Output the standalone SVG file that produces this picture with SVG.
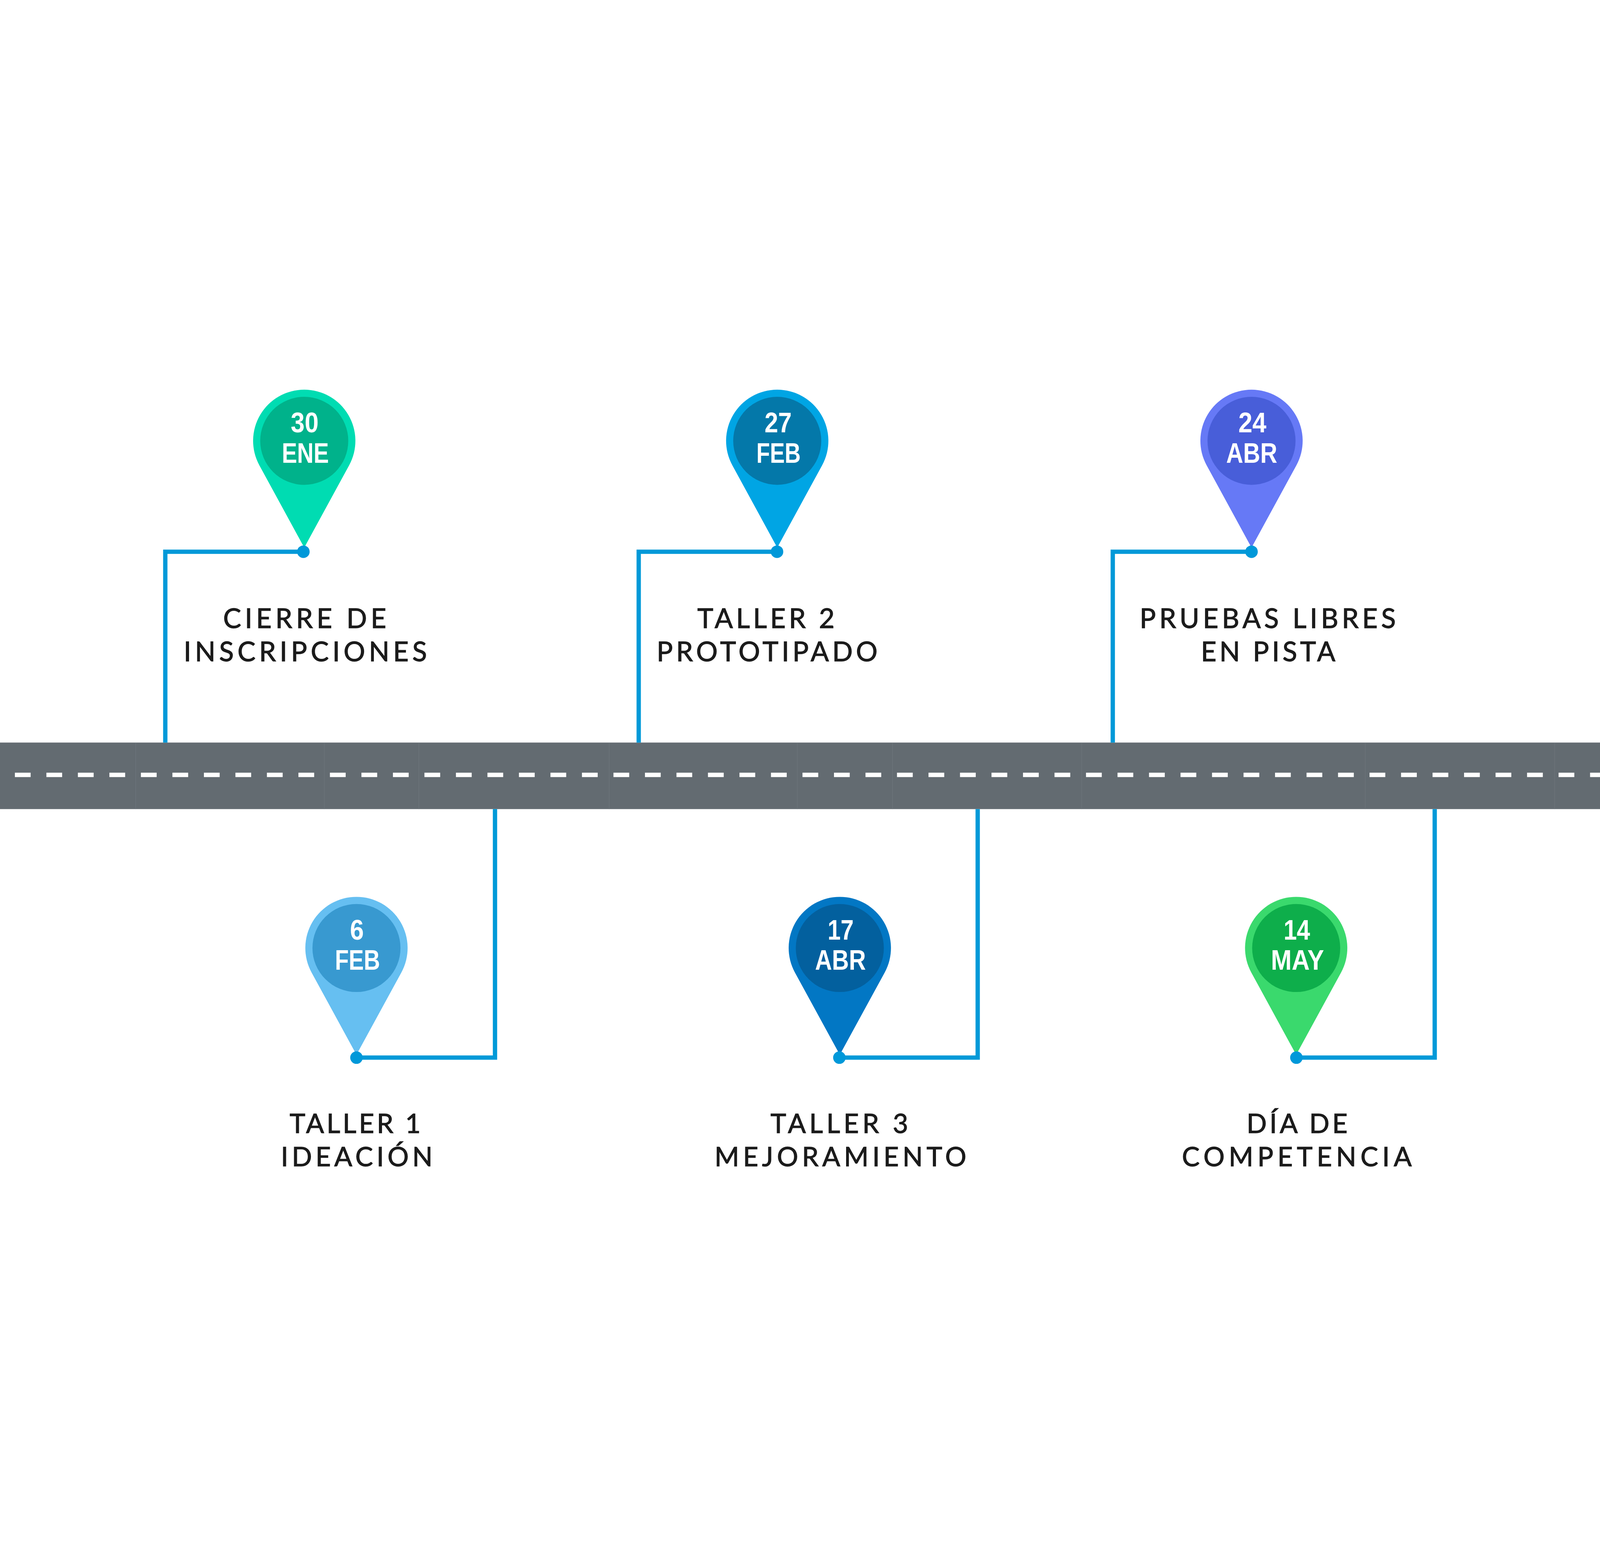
<svg xmlns="http://www.w3.org/2000/svg" width="7415" height="3997" viewBox="0 0 7415 3997" style="width:100vw;height:100vh;display:block">
<style>
.lbl{font-family:"Lato","Liberation Sans",sans-serif;font-size:125px;fill:#1b1b1b;stroke:#1b1b1b;stroke-width:2.5px;text-anchor:middle}
.lbl2{font-size:123px}
.date{font-family:"Liberation Sans","Roboto",sans-serif;font-weight:bold;font-size:131px;fill:#ffffff;text-anchor:middle}
.conn{fill:none;stroke:#0099d8;stroke-width:20;stroke-linejoin:miter;stroke-linecap:butt}
.dot{fill:#0098d9}
.seam{stroke:#6f777d;stroke-width:2}
</style>
<defs>
<path id="pin" d="M -208 113.5 A 237 237 0 1 1 208 113.5 L 0 495 Z"/>
</defs>
<rect x="0" y="0" width="7415" height="3997" fill="#ffffff"/>
<g id="road">
<rect x="0" y="1823" width="7415" height="308" fill="#636b71"/>
<rect x="0" y="1822" width="7415" height="2" fill="#959b9f"/>
<g class="seam">
<line x1="629" y1="1824" x2="629" y2="2131"/>
<line x1="1503" y1="1824" x2="1503" y2="2131"/>
<line x1="1941" y1="1824" x2="1941" y2="2131"/>
<line x1="2823" y1="1824" x2="2823" y2="2131"/>
<line x1="3695" y1="1824" x2="3695" y2="2131"/>
<line x1="4136" y1="1824" x2="4136" y2="2131"/>
<line x1="5013" y1="1824" x2="5013" y2="2131"/>
<line x1="6327" y1="1824" x2="6327" y2="2131"/>
<line x1="7205" y1="1824" x2="7205" y2="2131"/>
</g>
<line x1="69" y1="1972.5" x2="7415" y2="1972.5" stroke="#ffffff" stroke-width="20" stroke-dasharray="73 73"/>
</g>
<g id="connectors">
<path class="conn" d="M 1406 938 H 766 V 1823"/>
<path class="conn" d="M 3601 938 H 2960 V 1823"/>
<path class="conn" d="M 5800 938 H 5157 V 1823"/>
<path class="conn" d="M 1652 3283 H 2294 V 2131"/>
<path class="conn" d="M 3890 3283 H 4531 V 2131"/>
<path class="conn" d="M 6008 3283 H 6649 V 2131"/>
</g>
<g id="node-30-ene">
<use href="#pin" transform="translate(1410 424)" fill="#00dcb2"/>
<circle cx="1410" cy="424" r="204" fill="#00b28b"/>
<circle class="dot" cx="1406" cy="938" r="29"/>
<text class="date" x="1412" y="385" textLength="129" lengthAdjust="spacingAndGlyphs">30</text>
<text class="date" x="1415" y="525" textLength="218" lengthAdjust="spacingAndGlyphs">ENE</text>
<text class="lbl" x="1412" y="1292" textLength="756">CIERRE DE</text>
<text class="lbl" x="1415" y="1445" textLength="1127">INSCRIPCIONES</text>
</g>
<g id="node-27-feb">
<use href="#pin" transform="translate(3602 424)" fill="#00a5e4"/>
<circle cx="3602" cy="424" r="204" fill="#0478a9"/>
<circle class="dot" cx="3601" cy="938" r="29"/>
<text class="date" x="3606" y="385" textLength="126" lengthAdjust="spacingAndGlyphs">27</text>
<text class="date" x="3608" y="525" textLength="206" lengthAdjust="spacingAndGlyphs">FEB</text>
<text class="lbl" x="3550" y="1292" textLength="636">TALLER 2</text>
<text class="lbl" x="3555" y="1445" textLength="1024">PROTOTIPADO</text>
</g>
<g id="node-24-abr">
<use href="#pin" transform="translate(5800 424)" fill="#6679f6"/>
<circle cx="5800" cy="424" r="204" fill="#485ed9"/>
<circle class="dot" cx="5800" cy="938" r="29"/>
<text class="date" x="5804" y="385" textLength="130" lengthAdjust="spacingAndGlyphs">24</text>
<text class="date" x="5801" y="525" textLength="237" lengthAdjust="spacingAndGlyphs">ABR</text>
<text class="lbl" x="5875" y="1292" textLength="1187">PRUEBAS LIBRES</text>
<text class="lbl" x="5877" y="1445" textLength="623">EN PISTA</text>
</g>
<g id="node-6-feb">
<use href="#pin" transform="translate(1652 2775)" fill="#66bff1"/>
<circle cx="1652" cy="2775" r="204" fill="#3899d0"/>
<circle class="dot" cx="1652" cy="3283" r="29"/>
<text class="date" x="1654" y="2736" textLength="64" lengthAdjust="spacingAndGlyphs">6</text>
<text class="date" x="1657" y="2876" textLength="209" lengthAdjust="spacingAndGlyphs">FEB</text>
<text class="lbl lbl2" x="1646" y="3633" textLength="607">TALLER 1</text>
<text class="lbl lbl2" x="1653" y="3787" textLength="703">IDEACIÓN</text>
</g>
<g id="node-17-abr">
<use href="#pin" transform="translate(3892 2775)" fill="#0277c4"/>
<circle cx="3892" cy="2775" r="204" fill="#03609e"/>
<circle class="dot" cx="3890" cy="3283" r="29"/>
<text class="date" x="3896" y="2736" textLength="121" lengthAdjust="spacingAndGlyphs">17</text>
<text class="date" x="3895" y="2876" textLength="236" lengthAdjust="spacingAndGlyphs">ABR</text>
<text class="lbl lbl2" x="3890" y="3633" textLength="638">TALLER 3</text>
<text class="lbl lbl2" x="3895" y="3787" textLength="1167">MEJORAMIENTO</text>
</g>
<g id="node-14-may">
<use href="#pin" transform="translate(6007 2775)" fill="#3ad96d"/>
<circle cx="6007" cy="2775" r="204" fill="#0eae4b"/>
<circle class="dot" cx="6008" cy="3283" r="29"/>
<text class="date" x="6010" y="2736" textLength="123" lengthAdjust="spacingAndGlyphs">14</text>
<text class="date" x="6013" y="2876" textLength="246" lengthAdjust="spacingAndGlyphs">MAY</text>
<text class="lbl lbl2" x="6011" y="3633" textLength="468">DÍA DE</text>
<text class="lbl lbl2" x="6010" y="3787" textLength="1065">COMPETENCIA</text>
</g>
</svg>
